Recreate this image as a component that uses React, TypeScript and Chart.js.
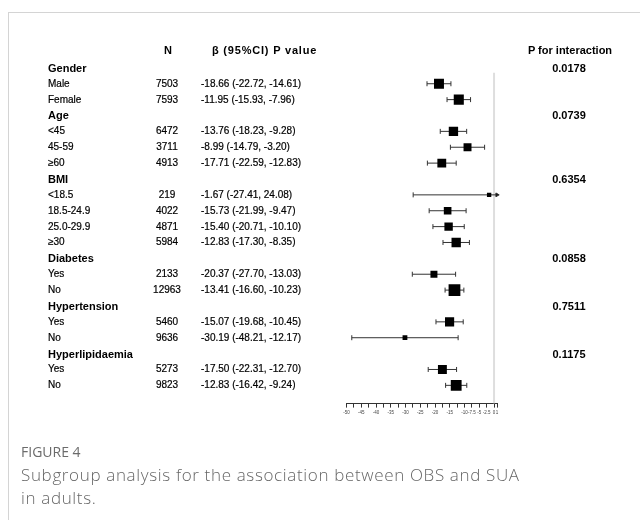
import React, { useEffect, useRef, useState } from "react";
import { Chart, registerables } from "chart.js";

Chart.register(...registerables);

// ---- data ----
const rowLabels = [
  "Gender", "Male", "Female",
  "Age", "<45", "45-59", "≥60",
  "BMI", "<18.5", "18.5-24.9", "25.0-29.9", "≥30",
  "Diabetes", "Yes", "No",
  "Hypertension", "Yes", "No",
  "Hyperlipidaemia", "Yes", "No",
];
const isGroupHeader = [
  true, false, false,
  true, false, false, false,
  true, false, false, false, false,
  true, false, false,
  true, false, false,
  true, false, false,
];
const nValues = [
  "", "7503", "7593",
  "", "6472", "3711", "4913",
  "", "219", "4022", "4871", "5984",
  "", "2133", "12963",
  "", "5460", "9636",
  "", "5273", "9823",
];
const betaValues: (number | null)[] = [
  null, -18.66, -11.95,
  null, -13.76, -8.99, -17.71,
  null, -1.67, -15.73, -15.4, -12.83,
  null, -20.37, -13.41,
  null, -15.07, -30.19,
  null, -17.5, -12.83,
];
const ciLower: (number | null)[] = [
  null, -22.72, -15.93,
  null, -18.23, -14.79, -22.59,
  null, -27.41, -21.99, -20.71, -17.3,
  null, -27.7, -16.6,
  null, -19.68, -48.21,
  null, -22.31, -16.42,
];
const ciUpper: (number | null)[] = [
  null, -14.61, -7.96,
  null, -9.28, -3.2, -12.83,
  null, 24.08, -9.47, -10.1, -8.35,
  null, -13.03, -10.23,
  null, -10.45, -12.17,
  null, -12.7, -9.24,
];
const pInteraction = [
  "0.0178", "", "",
  "0.0739", "", "", "",
  "0.6354", "", "", "", "",
  "0.0858", "", "",
  "0.7511", "", "",
  "0.1175", "", "",
];
const xTickValues = [
  -50, -47.5, -45, -42.5, -40, -37.5, -35, -32.5, -30, -27.5, -25, -22.5,
  -20, -17.5, -15, -12.5, -10, -7.5, -5, -2.5, 0, 1,
];
const xTickLabels = [
  "-50", "", "-45", "", "-40", "", "-35", "", "-30", "", "-25", "",
  "-20", "", "-15", "", "-10", "-7.5", "-5", "-2.5", "0", "1",
];
const X_MIN = -50;
const X_MAX = 1;
const Y_MIN = -1;
const Y_MAX = 21.15;

const FONT = "'Liberation Sans', Arial, Helvetica, sans-serif";

export default function App() {
  const canvasRef = useRef<HTMLCanvasElement | null>(null);
  const [rowY, setRowY] = useState<number[] | null>(null);
  const [headY, setHeadY] = useState<number>(42);

  useEffect(() => {
    if (!canvasRef.current) return;

    const boxData: any[] = [];
    const boxSizes: number[] = [];
    const ciSets: any[] = [];
    rowLabels.forEach((_, i) => {
      const b = betaValues[i];
      const lo = ciLower[i];
      const hi = ciUpper[i];
      if (b === null || lo === null || hi === null) return;
      const side = 3.3 + 54 / (hi - lo);
      boxData.push({ x: b, y: i });
      boxSizes.push(side / Math.SQRT2);
      const clipped = hi > X_MAX;
      ciSets.push({
        type: "scatter",
        data: [
          { x: lo, y: i },
          { x: Math.min(hi, X_MAX), y: i },
        ],
        showLine: true,
        borderColor: "#333",
        borderWidth: 1,
        pointStyle: (ctx: any) => (clipped && ctx.dataIndex === 1 ? "triangle" : "line"),
        pointRotation: 90,
        pointRadius: (ctx: any) => (clipped && ctx.dataIndex === 1 ? 2.2 : 2.5),
        pointBorderColor: "#333",
        pointBackgroundColor: "#111",
        pointBorderWidth: 1,
        clip: false,
      });
    });

    const chart = new Chart(canvasRef.current, {
      type: "scatter",
      data: {
        datasets: [
          {
            data: boxData,
            pointStyle: "rect",
            pointRadius: boxSizes,
            pointBackgroundColor: "#000",
            pointBorderColor: "#000",
            pointBorderWidth: 0,
          } as any,
          ...ciSets,
          {
            data: [
              { x: 0, y: 0.3 },
              { x: 0, y: Y_MAX },
            ],
            showLine: true,
            borderColor: "#dedede",
            borderWidth: 2,
            pointRadius: 0,
          },
        ],
      },
      options: {
        responsive: false,
        animation: false,
        events: [],
        layout: { padding: { left: 338.5, right: 143, top: 44, bottom: 11 } },
        plugins: { legend: { display: false }, tooltip: { enabled: false } },
        scales: {
          x: {
            type: "linear",
            min: X_MIN,
            max: X_MAX,
            afterBuildTicks: (scale: any) => {
              scale.ticks = xTickValues.map((v) => ({ value: v }));
            },
            grid: {
              display: true,
              drawOnChartArea: false,
              drawTicks: true,
              tickLength: 4,
              color: "#333",
            },
            border: { display: true, color: "#333", width: 1 },
            ticks: {
              autoSkip: false,
              maxRotation: 0,
              minRotation: 0,
              padding: 2,
              color: "#444",
              font: { size: 4.5, family: FONT },
              callback: (v: any) => {
                const idx = xTickValues.indexOf(Number(v));
                return idx >= 0 ? xTickLabels[idx] : "";
              },
            },
          },
          y: {
            type: "linear",
            min: Y_MIN,
            max: Y_MAX,
            reverse: true,
            display: false,
          },
        },
      } as any,
    });

    const ys = chart.scales.y;
    setRowY(rowLabels.map((_, i) => ys.getPixelForValue(i)));
    setHeadY(ys.getPixelForValue(-1.13));

    return () => {
      chart.destroy();
    };
  }, []);

  const textBase: React.CSSProperties = {
    position: "absolute",
    whiteSpace: "nowrap",
    lineHeight: 1,
    fontFamily: FONT,
    color: "#000",
  };
  const regular: React.CSSProperties = {
    fontSize: 10,
    WebkitTextStroke: "0.2px #000",
  };

  const ciText = (i: number) => {
    const b = betaValues[i];
    const lo = ciLower[i];
    const hi = ciUpper[i];
    if (b === null || lo === null || hi === null) return "";
    return `${b.toFixed(2)} (${lo.toFixed(2)}, ${hi.toFixed(2)})`;
  };

  return (
    <div style={{ position: "relative", width: 632, height: 500, background: "#fff" }}>
      <div
        style={{
          position: "fixed",
          left: 8,
          top: 12,
          right: 0,
          bottom: 0,
          borderTop: "1px solid #d4d4d4",
          borderLeft: "1px solid #d4d4d4",
          pointerEvents: "none",
        }}
      />
      <canvas
        ref={canvasRef}
        width={632}
        height={420}
        style={{ position: "absolute", left: 0, top: 0, width: 632, height: 420 }}
      />
      {/* header row */}
      <div style={{ ...textBase, left: 160, top: headY, transform: "translate(-50%, -50%)", fontWeight: 700, fontSize: 11 }}>N</div>
      <div style={{ ...textBase, left: 204, top: headY, transform: "translateY(-50%)", fontWeight: 700, fontSize: 11, letterSpacing: 0.8 }}>β (95%CI) P value</div>
      <div style={{ ...textBase, left: 562, top: headY, transform: "translate(-50%, -50%)", fontWeight: 700, fontSize: 11 }}>P for interaction</div>
      {rowY &&
        rowLabels.map((label, i) => (
          <React.Fragment key={i}>
            <div
              style={{
                ...textBase,
                ...(isGroupHeader[i] ? { fontWeight: 700, fontSize: 11 } : regular),
                left: 40,
                top: rowY[i],
                transform: "translateY(-50%)",
              }}
            >
              {label}
            </div>
            {nValues[i] && (
              <div style={{ ...textBase, ...regular, left: 159, top: rowY[i], transform: "translate(-50%, -50%)" }}>
                {nValues[i]}
              </div>
            )}
            {betaValues[i] !== null && (
              <div style={{ ...textBase, ...regular, left: 193, top: rowY[i], transform: "translateY(-50%)" }}>
                {ciText(i)}
              </div>
            )}
            {pInteraction[i] && (
              <div
                style={{
                  ...textBase,
                  left: 561,
                  top: rowY[i],
                  transform: "translate(-50%, -50%)",
                  fontWeight: 700,
                  fontSize: 11,
                }}
              >
                {pInteraction[i]}
              </div>
            )}
          </React.Fragment>
        ))}
      {/* caption */}
      <div
        style={{
          position: "absolute",
          left: 13,
          top: 434,
          fontFamily: "'Open Sans', 'Noto Sans', sans-serif",
          fontSize: 14,
          lineHeight: "20px",
          color: "#6b6b6b",
          whiteSpace: "nowrap",
        }}
      >
        FIGURE 4
      </div>
      <div
        style={{
          position: "absolute",
          left: 13,
          top: 455,
          fontFamily: "'Open Sans', 'Noto Sans', sans-serif",
          fontSize: 17,
          letterSpacing: 0.65,
          fontWeight: 300,
          lineHeight: "23px",
          color: "#666",
          whiteSpace: "nowrap",
        }}
      >
        Subgroup analysis for the association between OBS and SUA
        <br />
        in adults.
      </div>
    </div>
  );
}
